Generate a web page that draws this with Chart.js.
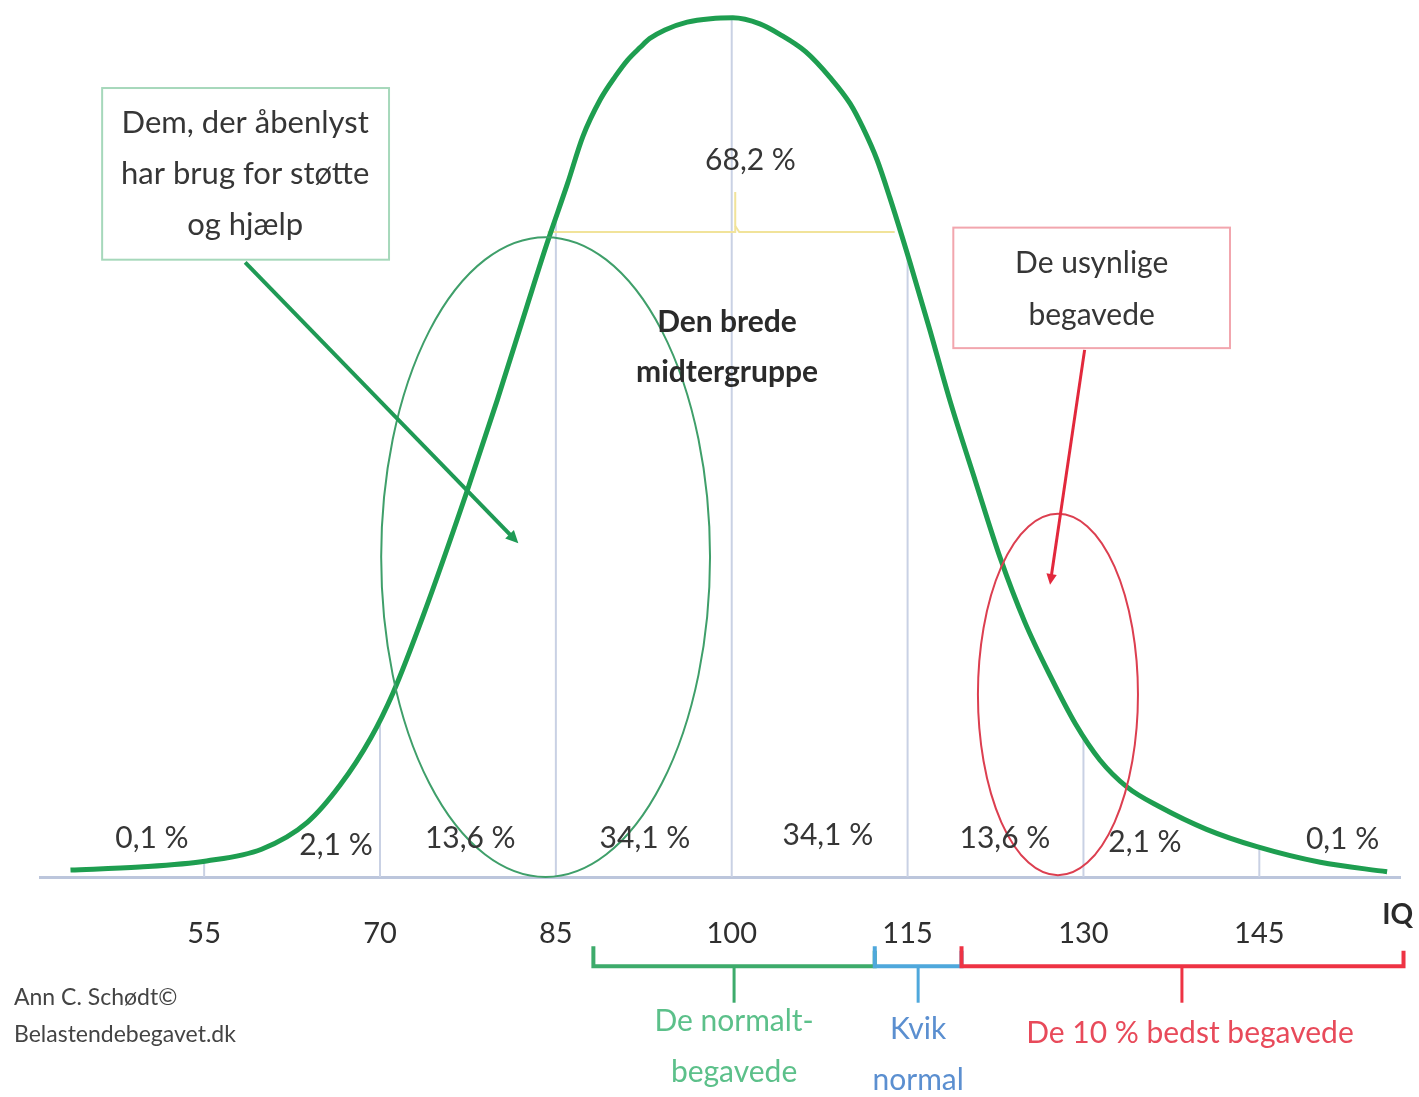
<!DOCTYPE html>
<html>
<head>
<meta charset="utf-8">
<script src="https://cdn.jsdelivr.net/npm/chart.js@4.4.1/dist/chart.umd.min.js"></script>
<style>
  html, body { margin: 0; padding: 0; background: #fff; }
</style>
</head>
<body>
<canvas id="iq-kurve" width="1419" height="1097"></canvas>
<script>
// =====================================================
//  IQ-fordeling — normalkurve med grupper
// =====================================================

// kurven
const iqPunkter = [
  43.6, 49.5, 55.2, 59.9, 63.8, 66.6, 69.2, 71.1, 73.7, 77.4, 80.0, 82.5, 84.2, 86.0, 87.3, 88.8,
  90.1, 91.1, 92.2, 93.0, 94.3, 96.2, 98.2, 100.1, 102.4, 104.1, 106.3, 108.4, 110.1, 111.2, 112.4,
  113.5, 115.2, 116.9, 118.6, 120.8, 122.9, 125.0, 127.2, 129.3, 131.4, 133.7, 136.5, 140.5, 144.8, 150.2, 155.9
];
const kurveVaerdier = [
  0.8, 1.15, 1.85, 3.2, 6.3, 10.6, 16.0, 21.2, 30.2, 44.4, 55.0, 65.7, 72.9, 80.0, 85.4, 89.7,
  92.4, 94.2, 95.7, 96.7, 97.7, 98.6, 99.0, 99.1, 98.4, 97.2, 95.2, 92.2, 89.2, 86.4, 82.7,
  78.3, 70.9, 63.1, 55.0, 45.6, 36.8, 29.4, 23.1, 17.7, 13.5, 10.4, 8.1, 5.5, 3.5, 1.7, 0.6
];

const iqTicks   = [55, 70, 85, 100, 115, 130, 145];
const procenter = ['0,1 %', '2,1 %', '13,6 %', '34,1 %', '34,1 %', '13,6 %', '2,1 %', '0,1 %'];
const midtProcent = '68,2 %';

const grupper = [
  { fra: 88.2,  til: 112.2, tekst: ['De normalt-', 'begavede'] },
  { fra: 112.2, til: 119.6, tekst: ['Kvik', 'normal'] },
  { fra: 119.6, til: 157.3, tekst: ['De 10 % bedst begavede'] },
];

const FONT = 'Lato, "Open Sans", sans-serif';
const MORK = '#363636';

// lineær interpolation på kurven
function kurveVed(iq) {
  for (let i = 1; i < iqPunkter.length; i++) {
    if (iq <= iqPunkter[i]) {
      const t = (iq - iqPunkter[i-1]) / (iqPunkter[i] - iqPunkter[i-1]);
      return kurveVaerdier[i-1] + t * (kurveVaerdier[i] - kurveVaerdier[i-1]);
    }
  }
  return kurveVaerdier[kurveVaerdier.length - 1];
}

function pil(ctx, x1, y1, x2, y2, farve, bredde, hoved) {
  ctx.save();
  ctx.strokeStyle = farve; ctx.fillStyle = farve; ctx.lineWidth = bredde;
  const a = Math.atan2(y2 - y1, x2 - x1);
  ctx.beginPath(); ctx.moveTo(x1, y1); ctx.lineTo(x2 - Math.cos(a) * hoved * 0.6, y2 - Math.sin(a) * hoved * 0.6); ctx.stroke();
  ctx.beginPath();
  ctx.moveTo(x2, y2);
  ctx.lineTo(x2 - hoved * Math.cos(a - 0.45), y2 - hoved * Math.sin(a - 0.45));
  ctx.lineTo(x2 - hoved * Math.cos(a + 0.45), y2 - hoved * Math.sin(a + 0.45));
  ctx.closePath(); ctx.fill();
  ctx.restore();
}

function tekst(ctx, t, x, y, farve, str, fed, align) {
  ctx.font = (fed ? 'bold ' : '') + str + 'px ' + FONT;
  ctx.fillStyle = farve;
  ctx.textAlign = align || 'center';
  ctx.textBaseline = 'middle';
  ctx.fillText(t, x, y);
}

const baggrund = {
  id: 'baggrund',
  beforeDatasetsDraw(chart) {
    const { ctx, scales: { x, y } } = chart;
    ctx.save();
    // lodrette linjer op til kurven
    ctx.strokeStyle = '#c9d1e4'; ctx.lineWidth = 2;
    iqTicks.forEach(v => {
      const px = x.getPixelForValue(v);
      ctx.beginPath(); ctx.moveTo(px, y.getPixelForValue(0)); ctx.lineTo(px, y.getPixelForValue(kurveVed(v))); ctx.stroke();
    });
    // gul klamme 68,2 %
    ctx.strokeStyle = '#f1e39a'; ctx.lineWidth = 2;
    const gy = y.getPixelForValue(74.4), ty = y.getPixelForValue(79.0), cx = x.getPixelForValue(100.3);
    ctx.beginPath(); ctx.moveTo(x.getPixelForValue(84.3), gy); ctx.lineTo(cx, gy); ctx.lineTo(cx, ty); ctx.stroke();
    ctx.beginPath(); ctx.moveTo(cx, gy - 6); ctx.lineTo(cx + 4, gy); ctx.lineTo(x.getPixelForValue(113.9), gy); ctx.stroke();
    ctx.restore();
  }
};

const annoteringer = {
  id: 'annoteringer',
  afterDatasetsDraw(chart) {
    const { ctx, scales: { x, y } } = chart;
    const X = v => x.getPixelForValue(v), Y = v => y.getPixelForValue(v);
    ctx.save();

    // ellipser
    ctx.lineWidth = 2;
    ctx.strokeStyle = '#3f9f6a';
    ctx.beginPath(); ctx.ellipse((X(70.1) + X(98.15)) / 2, (Y(0) + Y(73.8)) / 2, (X(98.15) - X(70.1)) / 2, (Y(0) - Y(73.8)) / 2, 0, 0, Math.PI * 2); ctx.stroke();
    ctx.strokeStyle = '#dc3f50';
    ctx.beginPath(); ctx.ellipse((X(121.0) + X(134.65)) / 2, (Y(0.2) + Y(41.9)) / 2, (X(134.65) - X(121.0)) / 2, (Y(0.2) - Y(41.9)) / 2, 0, 0, Math.PI * 2); ctx.stroke();

    // procenter
    const procentPos = [[50.55, 4.5], [66.25, 3.7], [77.7, 4.5], [92.6, 4.5], [108.2, 4.8], [123.3, 4.5], [135.25, 4.0], [152.1, 4.3]];
    procenter.forEach((p, i) => tekst(ctx, p, X(procentPos[i][0]), Y(procentPos[i][1]), MORK, 30));
    tekst(ctx, midtProcent, X(101.6), Y(82.7), MORK, 30);
    tekst(ctx, 'Den brede', X(99.6), Y(64.0), '#2a2a2a', 30, true);
    tekst(ctx, 'midtergruppe', X(99.6), Y(58.2), '#2a2a2a', 30, true);

    // boks 1
    ctx.strokeStyle = '#a6d8bb'; ctx.lineWidth = 2; ctx.fillStyle = '#fff';
    ctx.fillRect(X(46.3), Y(91.0), X(70.77) - X(46.3), Y(71.2) - Y(91.0));
    ctx.strokeRect(X(46.3), Y(91.0), X(70.77) - X(46.3), Y(71.2) - Y(91.0));
    ['Dem, der åbenlyst', 'har brug for støtte', 'og hjælp'].forEach((t, i) => tekst(ctx, t, X(58.5), Y(87.0 - i * 5.9), MORK, 31));
    pil(ctx, X(58.5), Y(70.9), X(81.8), Y(38.5), '#1f9a55', 4, 14);

    // boks 2
    ctx.strokeStyle = '#f2a6ae'; ctx.lineWidth = 2;
    ctx.strokeRect(X(118.9), Y(74.9), X(142.5) - X(118.9), Y(61.0) - Y(74.9));
    ['De usynlige', 'begavede'].forEach((t, i) => tekst(ctx, t, X(130.7), Y(70.8 - i * 6.0), MORK, 30));
    pil(ctx, X(130.1), Y(60.8), X(127.15), Y(33.7), '#e2283c', 3, 12);

    // IQ
    tekst(ctx, 'IQ', X(156.8), Y(-4.4), '#2a2a2a', 28, true);

    // klammer under aksen
    const farver = ['#3dab6b', '#4fa8dc', '#ee3344'];
    const tekstFarver = ['#5cc08a', '#5b8fd0', '#e84a5a'];
    const midtX = [100.2, 115.9, 138.4];
    grupper.forEach((g, i) => {
      const ly = Y(-10.3), a = X(g.fra), b = X(g.til), m = X(midtX[i]);
      ctx.strokeStyle = farver[i]; ctx.lineWidth = 4;
      ctx.beginPath(); ctx.moveTo(a, Y(-8.0)); ctx.lineTo(a, ly); ctx.lineTo(b, ly); ctx.lineTo(b, Y(-8.5)); ctx.stroke();
      ctx.lineWidth = 3;
      ctx.beginPath(); ctx.moveTo(m, ly); ctx.lineTo(m, Y(-14.5)); ctx.stroke();
      if (g.tekst.length === 1) {
        tekst(ctx, g.tekst[0], m + 8, Y(-18.0), tekstFarver[i], 30);
      } else {
        const ty = i === 0 ? -16.7 : -17.6;
        g.tekst.forEach((t, j) => tekst(ctx, t, m, Y(ty - j * 5.8), tekstFarver[i], 30));
      }
    });

    // kilde
    tekst(ctx, 'Ann C. Schødt©', 14, 998, '#444', 23, false, 'left');
    tekst(ctx, 'Belastendebegavet.dk', 14, 1035, '#444', 23, false, 'left');
    ctx.restore();
  }
};

function tegn() {
  const ctx = document.getElementById('iq-kurve');
  new Chart(ctx, {
    type: 'line',
    data: {
      datasets: [{
        data: iqPunkter.map((v, i) => ({ x: v, y: kurveVaerdier[i] })),
        borderColor: '#1e9e50', borderWidth: 5, pointRadius: 0,
        cubicInterpolationMode: 'monotone', fill: false, clip: false
      }]
    },
    options: {
      responsive: false, animation: false, devicePixelRatio: 1,
      layout: { padding: { left: 40, right: 19, top: 10, bottom: 0 } },
      plugins: { legend: { display: false }, tooltip: { enabled: false } },
      scales: {
        x: {
          type: 'linear', min: 41, max: 157,
          afterBuildTicks: s => { s.ticks = iqTicks.map(v => ({ value: v })); },
          afterFit: s => { s.height = 220; },
          grid: { display: false, drawTicks: false },
          border: { display: true, color: '#bcc6dc', width: 3 },
          ticks: { color: '#2f2f2f', padding: 39, font: { family: FONT, size: 29 } }
        },
        y: { display: false, min: 0, max: 100 }
      }
    },
    plugins: [baggrund, annoteringer]
  });
}

document.fonts.load('30px Lato').then(tegn, tegn);
</script>
</body>
</html>
